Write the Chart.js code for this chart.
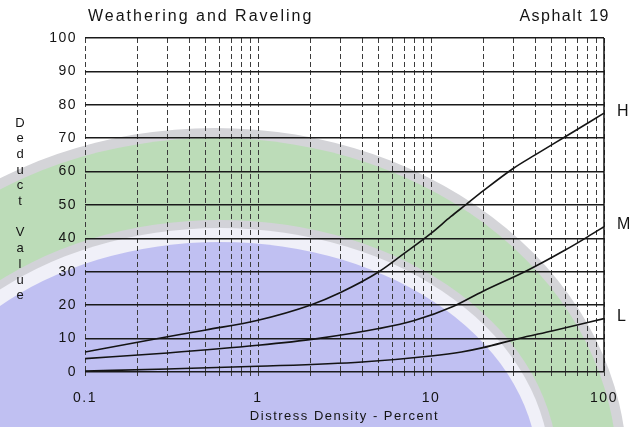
<!DOCTYPE html>
<html>
<head>
<meta charset="utf-8">
<script src="https://cdn.jsdelivr.net/npm/chart.js@4/dist/chart.umd.min.js"></script>
<style>
  html, body { margin: 0; padding: 0; background: #fff; }
</style>
</head>
<body>
<canvas id="myChart" width="631" height="427"></canvas>
<script>
// deduct curves (x = distress density %, y = deduct value)
let densityH = [0.1, 0.25, 0.5, 1, 2, 3, 5, 7, 10, 13, 16, 20, 30, 40, 60, 100];
let deductH  = [6, 9.8, 12.6, 15.5, 20, 23.8, 30, 35.5, 41.5, 46.5, 50.2, 54.2, 61, 65, 70.5, 77.5];

let densityM = [0.1, 0.3, 1, 2.2, 5, 8, 13.4, 20, 36, 60, 80, 100];
let deductM  = [4, 5.7, 8, 10, 13, 15.4, 19.6, 24.2, 30.4, 36.6, 40.4, 43.5];

let densityL = [0.1, 0.3, 1, 4, 10, 15, 20, 32, 50, 100];
let deductL  = [0.3, 0.9, 1.7, 3, 4.8, 6, 7.3, 10, 12.3, 16];

let severities = ['H', 'M', 'L'];

// log paper lines and the labelled ones
let gridDensities = [0.1, 0.2, 0.3, 0.4, 0.5, 0.6, 0.7, 0.8, 0.9,
                     1, 2, 3, 4, 5, 6, 7, 8, 9,
                     10, 20, 30, 40, 50, 60, 70, 80, 90, 100];
let labeledDensities = [0.1, 1, 10, 100];

let fontFamily = '"Liberation Sans", Arial, Helvetica, sans-serif';
let ink = '#141414';

let toPoints = (xs, ys) => xs.map((x, i) => ({x: x, y: ys[i]}));

let curve = (label, xs, ys) => ({
    label: label,
    data: toPoints(xs, ys),
    borderColor: ink,
    borderWidth: 1.6,
    pointRadius: 0,
    fill: false,
    cubicInterpolationMode: 'monotone'
});

// faint university watermark behind the scan
let drawWatermark = (ctx) => {
    let ell = (cx, cy, rx, ry, color) => {
        ctx.beginPath();
        ctx.ellipse(cx, cy, rx, ry, 0, 0, Math.PI * 2);
        ctx.fillStyle = color;
        ctx.fill();
    };
    ctx.save();
    ell(215, 470, 412, 342, '#d4d4d8');
    ell(215, 470, 402, 332, '#bcdcb8');
    ell(220, 470, 338, 250, '#d2d2d8');
    ell(220, 470, 330, 242, '#f0f0f8');
    ell(220, 472, 318, 230, '#c0c0f2');
    ctx.restore();
};

let paperText = {
    id: 'paperText',
    beforeDraw(chart) {
        drawWatermark(chart.ctx);
        chart.ctx.letterSpacing = '1.5px';
    },
    afterDraw(chart) {
        let ctx = chart.ctx;
        let area = chart.chartArea;
        ctx.save();

        // solid right edge of the paper
        ctx.strokeStyle = ink;
        ctx.lineWidth = 1.5;
        ctx.beginPath();
        ctx.moveTo(area.right, area.top);
        ctx.lineTo(area.right, area.bottom);
        ctx.stroke();

        ctx.fillStyle = ink;
        ctx.textBaseline = 'middle';

        ctx.font = '16px ' + fontFamily;
        ctx.letterSpacing = '2px';
        ctx.textAlign = 'left';
        ctx.fillText('Weathering and Raveling', 88, 17);

        ctx.letterSpacing = '1.5px';
        ctx.textAlign = 'right';
        ctx.fillText('Asphalt 19', 610, 17);

        // stacked axis title
        ctx.letterSpacing = '0px';
        ctx.textAlign = 'center';
        ctx.font = '13px ' + fontFamily;
        let word = 'Deduct Value'.split('');
        word.forEach((ch, i) => {
            ctx.fillText(ch, 20, 123 + i * 15.7);
        });

        // H / M / L at the end of each curve
        ctx.font = '16px ' + fontFamily;
        ctx.textAlign = 'left';
        severities.forEach((s, i) => {
            let pts = chart.getDatasetMeta(i).data;
            let last = pts[pts.length - 1];
            ctx.fillText(s, last.x + 13, last.y - 2);
        });

        ctx.restore();
    }
};

let newChart = () => {
    let ctx = document.getElementById('myChart').getContext('2d');
    new Chart(ctx, {
        type: 'line',
        data: {
            datasets: [
                curve('H', densityH, deductH),
                curve('M', densityM, deductM),
                curve('L', densityL, deductL)
            ]
        },
        options: {
            responsive: false,
            animation: false,
            devicePixelRatio: 1,
            layout: { padding: { top: 38, right: 27, left: 0, bottom: 0 } },
            plugins: {
                legend: { display: false },
                tooltip: { enabled: false }
            },
            scales: {
                x: {
                    type: 'logarithmic',
                    min: 0.1,
                    max: 100,
                    afterBuildTicks: (scale) => {
                        scale.ticks = gridDensities.map(v => ({value: v}));
                    },
                    afterFit: (scale) => { scale.height = 55; },
                    grid: { color: '#3c3c3c', lineWidth: 1, drawTicks: true, tickLength: 4 },
                    border: { display: false, dash: [5, 3] },
                    ticks: {
                        autoSkip: false,
                        maxRotation: 0,
                        minRotation: 0,
                        padding: 14,
                        color: ink,
                        font: { family: fontFamily, size: 14 },
                        callback: (v) => labeledDensities.includes(v) ? String(v) : ''
                    },
                    title: {
                        display: true,
                        text: 'Distress Density - Percent',
                        color: ink,
                        font: { family: fontFamily, size: 13 },
                        padding: { top: 0, bottom: 3 }
                    }
                },
                y: {
                    type: 'linear',
                    min: 0,
                    max: 100,
                    afterFit: (scale) => { scale.width = 85; },
                    grid: { color: '#1a1a1a', lineWidth: 1.6, drawTicks: false },
                    border: { display: false },
                    ticks: {
                        stepSize: 10,
                        padding: 8,
                        color: ink,
                        font: { family: fontFamily, size: 14 }
                    }
                }
            }
        },
        plugins: [paperText]
    });
};

newChart();
</script>
</body>
</html>
